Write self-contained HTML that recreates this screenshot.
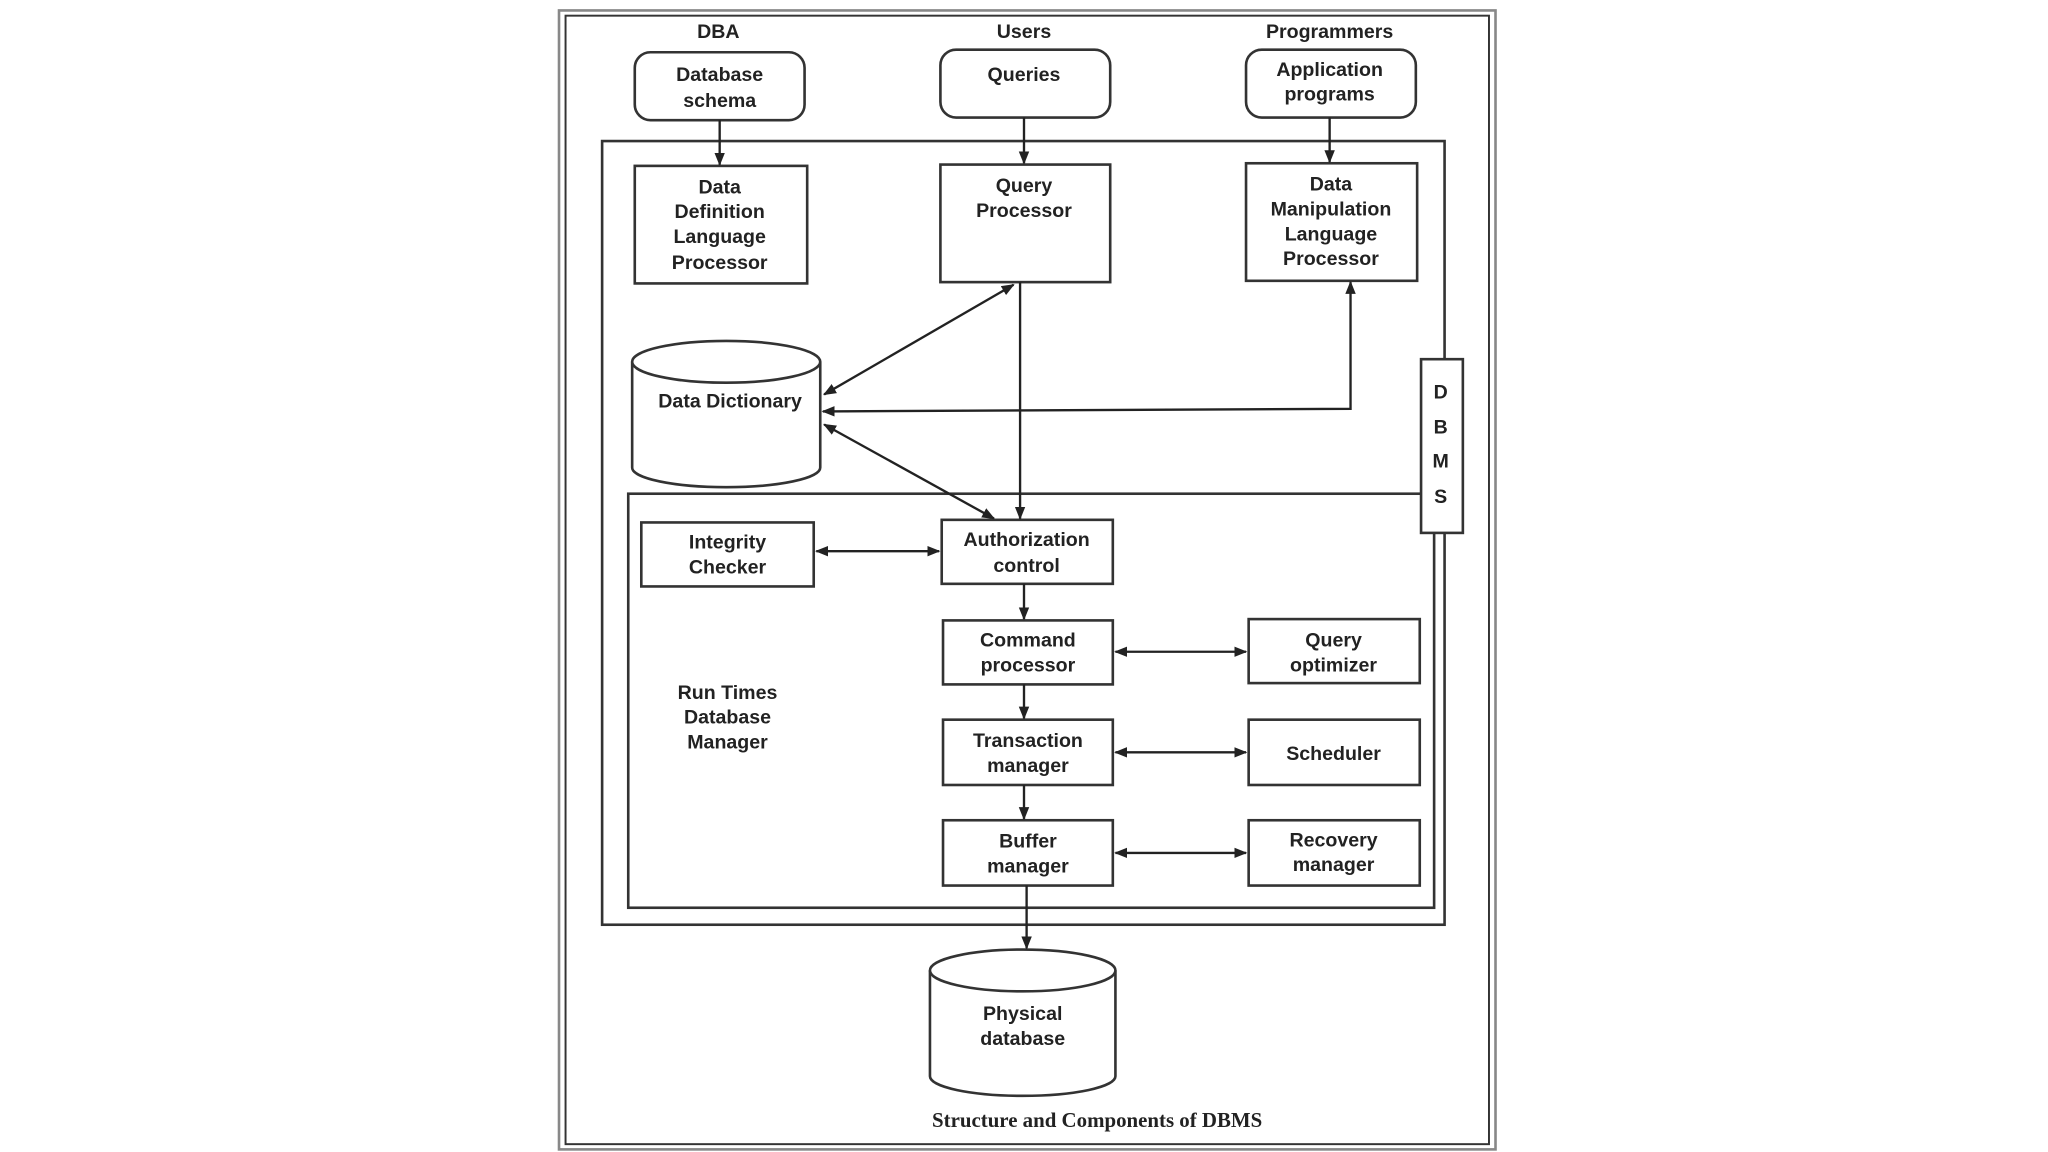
<!DOCTYPE html>
<html><head><meta charset="utf-8"><style>
html,body{margin:0;padding:0;background:#fff;}
svg{display:block;}
text{font-family:"Liberation Sans",sans-serif;font-size:15px;fill:#222;text-anchor:middle;font-weight:bold;}
</style></head><body>
<svg width="2048" height="1152" viewBox="0 0 1568 882" xmlns="http://www.w3.org/2000/svg">
<defs>
<marker id="a" markerWidth="10" markerHeight="10" refX="9" refY="5" orient="auto-start-reverse" markerUnits="userSpaceOnUse">
<path d="M0,1 L10,5 L0,9 z" fill="#222"/></marker>
</defs>
<rect width="1568" height="882" fill="#fff"/>
<g fill="none" stroke="#333" stroke-width="2">
<rect x="428" y="8" width="717" height="872" stroke="#888" stroke-width="2"/>
<rect x="433" y="12" width="707" height="864" stroke-width="1.5"/>
<rect x="461" y="108" width="645" height="600"/>
<rect x="481" y="378" width="617" height="317"/>
<rect x="486" y="40" width="130" height="52" rx="12"/>
<rect x="720" y="38" width="130" height="52" rx="12"/>
<rect x="954" y="38" width="130" height="52" rx="12"/>
<rect x="486" y="127" width="132" height="90"/>
<rect x="720" y="126" width="130" height="90"/>
<rect x="954" y="125" width="131" height="90"/>
<rect x="1088" y="275" width="32" height="133" fill="#fff"/>
<rect x="491" y="400" width="132" height="49"/>
<rect x="721" y="398" width="131" height="49"/>
<rect x="722" y="475" width="130" height="49"/>
<rect x="956" y="474" width="131" height="49"/>
<rect x="722" y="551" width="130" height="50"/>
<rect x="956" y="551" width="131" height="50"/>
<rect x="722" y="628" width="130" height="50"/>
<rect x="956" y="628" width="131" height="50"/>
<path d="M484,277 L484,358 A72,15 0 0 0 628,358 L628,277" fill="#fff"/>
<ellipse cx="556" cy="277" rx="72" ry="16" fill="#fff"/>
<path d="M712,743 L712,824 A71,15 0 0 0 854,824 L854,743" fill="#fff"/>
<ellipse cx="783" cy="743" rx="71" ry="16" fill="#fff"/>
</g>
<g stroke="#222" stroke-width="1.8" fill="none">
<line x1="551" y1="92" x2="551" y2="126" marker-end="url(#a)"/>
<line x1="784" y1="90" x2="784" y2="125" marker-end="url(#a)"/>
<line x1="1018" y1="90" x2="1018" y2="124" marker-end="url(#a)"/>
<line x1="781" y1="216" x2="781" y2="397" marker-end="url(#a)"/>
<line x1="776" y1="218" x2="631" y2="302" marker-start="url(#a)" marker-end="url(#a)"/>
<polyline points="1034,216 1034,313 630,315" marker-start="url(#a)" marker-end="url(#a)"/>
<line x1="631" y1="325" x2="761" y2="397" marker-start="url(#a)" marker-end="url(#a)"/>
<line x1="625" y1="422" x2="719" y2="422" marker-start="url(#a)" marker-end="url(#a)"/>
<line x1="784" y1="447" x2="784" y2="474" marker-end="url(#a)"/>
<line x1="784" y1="524" x2="784" y2="550" marker-end="url(#a)"/>
<line x1="784" y1="601" x2="784" y2="627" marker-end="url(#a)"/>
<line x1="786" y1="678" x2="786" y2="726" marker-end="url(#a)"/>
<line x1="854" y1="499" x2="954" y2="499" marker-start="url(#a)" marker-end="url(#a)"/>
<line x1="854" y1="576" x2="954" y2="576" marker-start="url(#a)" marker-end="url(#a)"/>
<line x1="854" y1="653" x2="954" y2="653" marker-start="url(#a)" marker-end="url(#a)"/>
</g>
<text x="550" y="29">DBA</text>
<text x="784" y="29">Users</text>
<text x="1018" y="29">Programmers</text>
<text x="551" y="62">Database</text><text x="551" y="82">schema</text>
<text x="784" y="62">Queries</text>
<text x="1018" y="58">Application</text><text x="1018" y="77">programs</text>
<text x="551" y="148">Data</text><text x="551" y="167">Definition</text><text x="551" y="186">Language</text><text x="551" y="206">Processor</text>
<text x="784" y="147">Query</text><text x="784" y="166">Processor</text>
<text x="1019" y="146">Data</text><text x="1019" y="165">Manipulation</text><text x="1019" y="184">Language</text><text x="1019" y="203">Processor</text>
<text x="559" y="312">Data Dictionary</text>
<text x="1103" y="305">D</text><text x="1103" y="332">B</text><text x="1103" y="358">M</text><text x="1103" y="385">S</text>
<text x="557" y="420">Integrity</text><text x="557" y="439">Checker</text>
<text x="786" y="418">Authorization</text><text x="786" y="438">control</text>
<text x="787" y="495">Command</text><text x="787" y="514">processor</text>
<text x="1021" y="495">Query</text><text x="1021" y="514">optimizer</text>
<text x="557" y="535">Run Times</text><text x="557" y="554">Database</text><text x="557" y="573">Manager</text>
<text x="787" y="572">Transaction</text><text x="787" y="591">manager</text>
<text x="1021" y="582">Scheduler</text>
<text x="787" y="649">Buffer</text><text x="787" y="668">manager</text>
<text x="1021" y="648">Recovery</text><text x="1021" y="667">manager</text>
<text x="783" y="781">Physical</text><text x="783" y="800">database</text>
<text x="840" y="863" style="font-family:'Liberation Serif',serif;font-size:16px;">Structure and Components of DBMS</text>
</svg>
</body></html>
